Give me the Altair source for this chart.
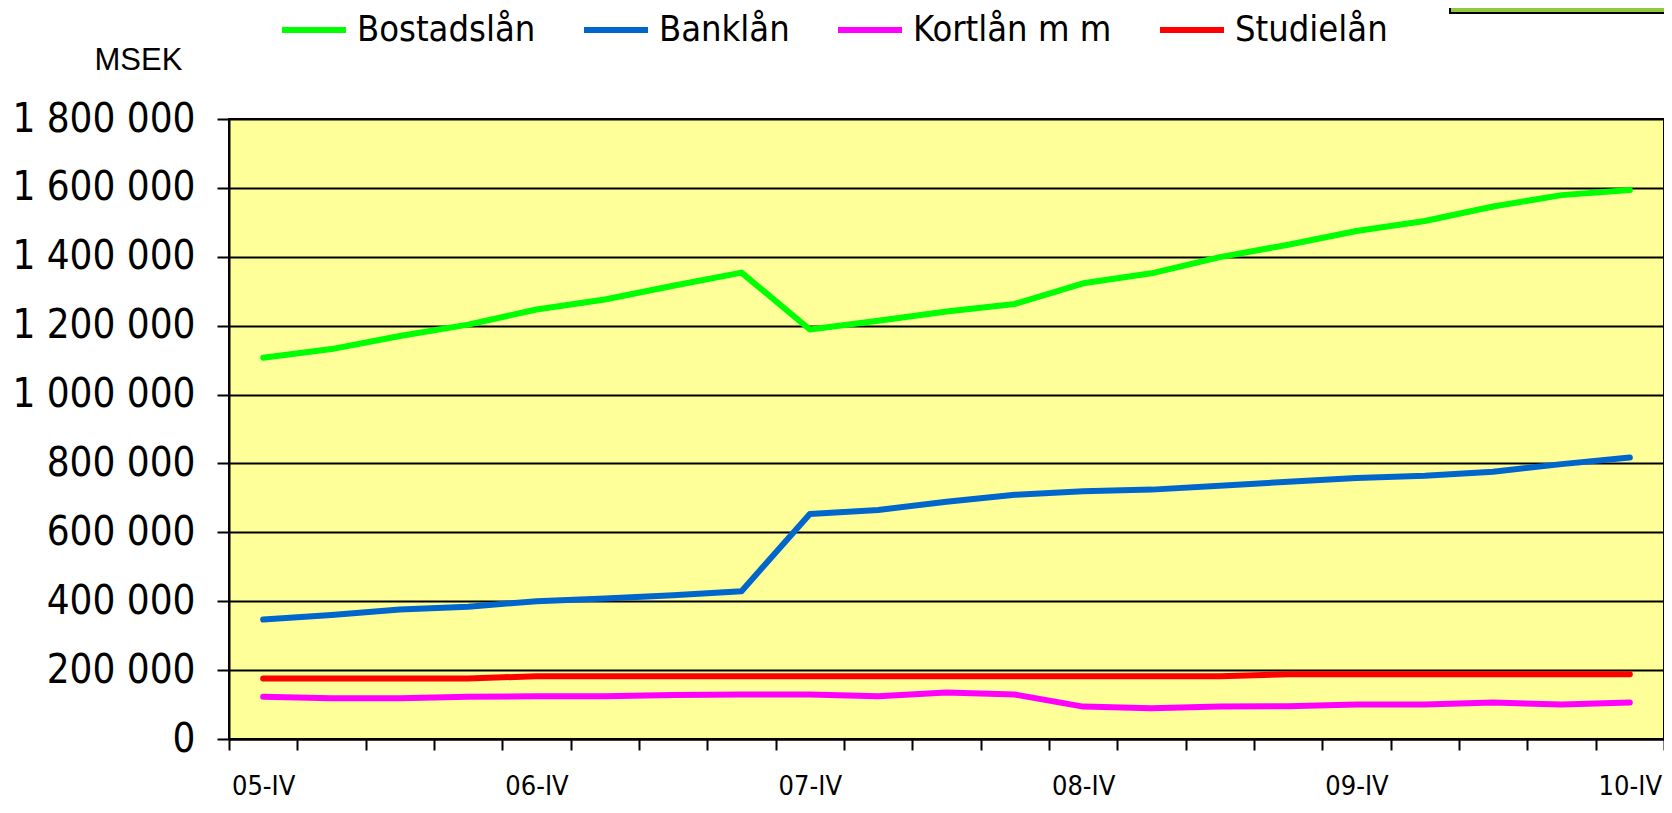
import altair as alt
import pandas as pd

quarters = ["05-IV",
            "06-I", "06-II", "06-III", "06-IV",
            "07-I", "07-II", "07-III", "07-IV",
            "08-I", "08-II", "08-III", "08-IV",
            "09-I", "09-II", "09-III", "09-IV",
            "10-I", "10-II", "10-III", "10-IV"]

bostadslan = [1107000, 1132000, 1170000, 1203000, 1247000, 1276000, 1316000, 1354000,
              1189000, 1214000, 1241000, 1263000, 1323000, 1352000, 1399000, 1435000,
              1475000, 1504000, 1546000, 1579000, 1594000]
banklan = [347000, 360000, 376000, 384000, 400000, 408000, 417000, 429000,
           653000, 665000, 689000, 709000, 719000, 724000, 735000, 747000,
           758000, 764000, 776000, 798000, 817000]
kortlan = [123000, 118000, 118000, 123000, 124000, 124000, 128000, 129000,
           129000, 124000, 135000, 129000, 94000, 89000, 94000, 95000,
           100000, 100000, 106000, 100000, 106000]
studielan = [176000, 176000, 176000, 176000, 182000, 182000, 182000, 182000,
             182000, 182000, 182000, 182000, 182000, 182000, 182000, 188000,
             188000, 188000, 188000, 188000, 188000]

series_names = ["Bostadslån", "Banklån", "Kortlån m m", "Studielån"]
series_colors = ["#00FF00", "#0066CC", "#FF00FF", "#FF0000"]

rows = []
for name, vals in zip(series_names, [bostadslan, banklan, kortlan, studielan]):
    for q, v in zip(quarters, vals):
        rows.append({"kvartal": q, "serie": name, "varde": v})
df = pd.DataFrame(rows)

NARROW = "DejaVu Sans Condensed, Liberation Sans Narrow, sans-serif"

lines = alt.Chart(df).mark_line(strokeWidth=6, strokeCap="round", strokeJoin="round").encode(
    x=alt.X("kvartal:N", sort=quarters,
            scale=alt.Scale(paddingInner=0, paddingOuter=0),
            axis=alt.Axis(title=None, labelAngle=0, labelAlign="center",
                          labelBaseline="alphabetic",
                          labelExpr="slice(datum.label, -3) == '-IV' ? datum.label : ''",
                          labelFont=NARROW, labelFontSize=27, labelColor="black",
                          labelPadding=44, tickSize=11, tickBand="extent",
                          tickColor="black", tickWidth=2, labelLimit=0,
                          domainColor="black", domainWidth=2, grid=False)),
    y=alt.Y("varde:Q",
            scale=alt.Scale(domain=[0, 1800000], nice=False),
            axis=alt.Axis(title="MSEK", titleAngle=0, titleAlign="left",
                          titleBaseline="alphabetic", titleX=-135, titleY=-50,
                          titleFont="Liberation Sans, Arial, sans-serif",
                          titleFontSize=31, titleFontWeight="normal", titleColor="black",
                          values=list(range(0, 1800001, 200000)),
                          labelExpr="replace(replace(format(datum.value, ','), ',', ' '), ',', ' ')",
                          labelFont=NARROW, labelFontSize=40, labelColor="black",
                          labelPadding=22, tickSize=12, tickColor="black", tickWidth=2,
                          labelLimit=0,
                          domainColor="black", domainWidth=2,
                          grid=True, gridColor="black", gridWidth=2)),
    color=alt.Color("serie:N", sort=series_names,
                    scale=alt.Scale(domain=series_names, range=series_colors),
                    legend=alt.Legend(title=None, orient="none", direction="horizontal",
                                      legendX=50, legendY=-124, columns=4,
                                      symbolType="stroke", symbolSize=4096,
                                      symbolStrokeWidth=6, labelFont=NARROW,
                                      labelFontSize=36, labelColor="black",
                                      labelOffset=8, columnPadding=36, padding=0,
                                      labelLimit=0)),
)

box_df = pd.DataFrame({"k": [1]})
box = alt.Chart(box_df).mark_rect(fill="#92C83E", stroke="black", strokeWidth=2, clip=False).encode(
    x=alt.value(1221), x2=alt.value(1460), y=alt.value(-125), y2=alt.value(-106)
)

chart = alt.layer(lines, box).properties(
    width=1435, height=620,
    background="white",
    autosize=alt.AutoSizeParams(type="none"),
    padding={"left": 221, "top": 111, "right": 0, "bottom": 61},
).configure_view(
    fill="#FFFF99", stroke="black", strokeWidth=2
)

chart.save("out.html", embed_options={"renderer": "svg", "actions": False})
